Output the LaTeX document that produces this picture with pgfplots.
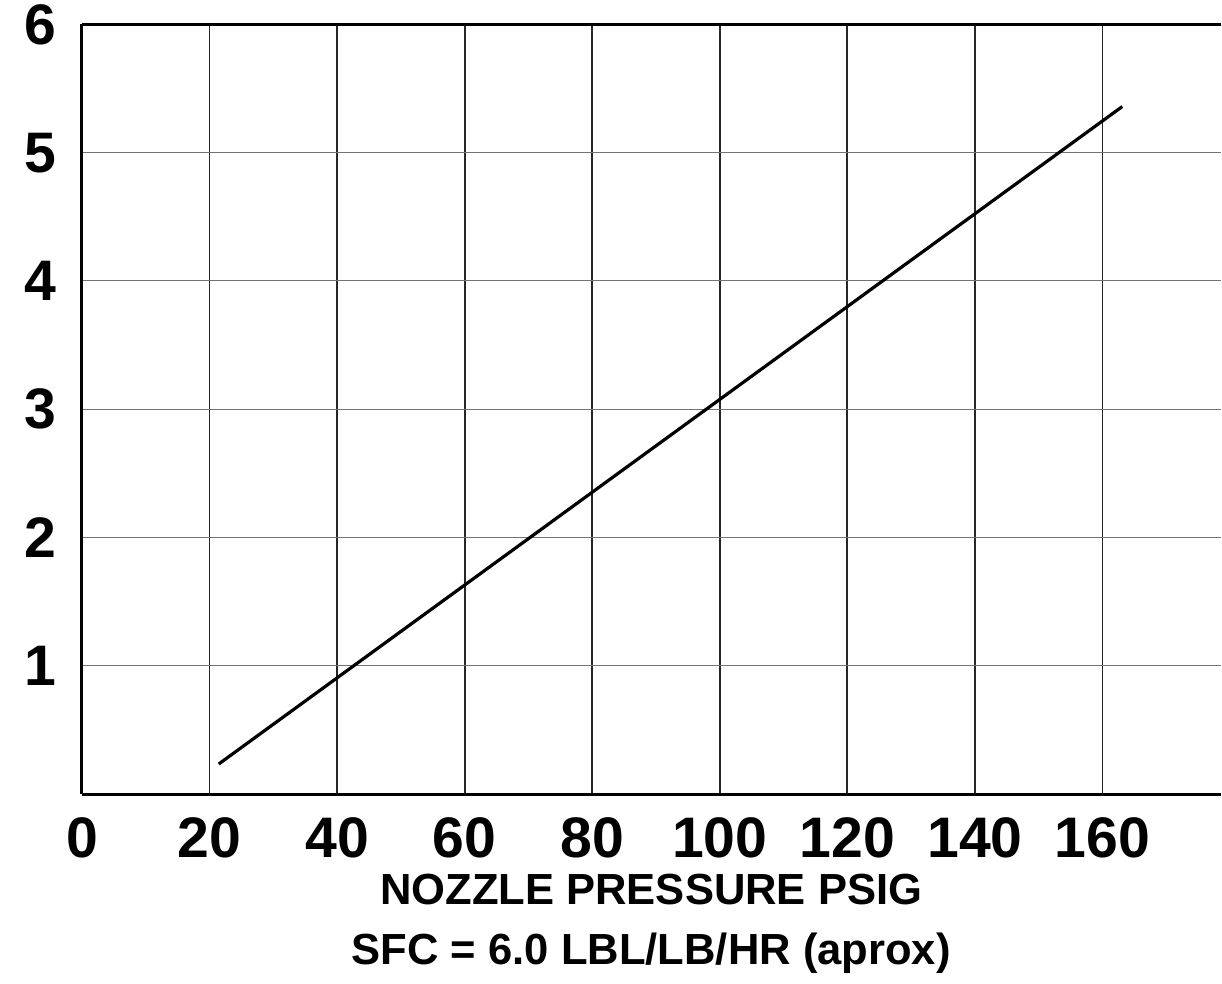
\documentclass[border=0pt]{standalone}
\usepackage{fontspec}
\setmainfont{Liberation Sans}
\usepackage{pgfplots}
\pgfplotsset{compat=1.18}
\begin{document}
\begin{tikzpicture}
\begin{axis}[
  name=ax,
  scale only axis,
  width=570pt, height=385.25pt,
  xmin=0, xmax=178.5, ymin=0, ymax=6,
  axis x line=box, axis y line=left,
  axis line style={line width=1.5pt, -},
  xtick={0,20,...,160}, ytick={1,2,3,4,5,6},
  major tick length=0pt,
  xmajorgrids, ymajorgrids,
  major x grid style={line width=0.9pt, black!85},
  major y grid style={line width=0.5pt, black!55},
  /pgf/number format/assume math mode=true,
  tick label style={font=\fontsize{28.6}{30}\selectfont\bfseries, inner sep=0pt},
  xticklabel style={anchor=north, yshift=-11.5pt},
  yticklabel style={anchor=east, xshift=-12.5pt},
  xlabel={NOZZLE PRESSURE PSIG\\SFC = 6.0 LBL/LB/HR (aprox)},
  xlabel style={at={(axis description cs:0.5,0)}, anchor=north, yshift=-40pt, inner sep=0pt, align=center, font=\fontsize{21.8}{30}\selectfont\bfseries},
  clip=false,
]
\addplot[black, line width=1.6pt] coordinates {(21.45,0.234) (163.1,5.36)};
\end{axis}
\path ([xshift=-41pt,yshift=12.25pt]ax.north west) rectangle ([yshift=-95pt]ax.south east);
\end{tikzpicture}
\end{document}
